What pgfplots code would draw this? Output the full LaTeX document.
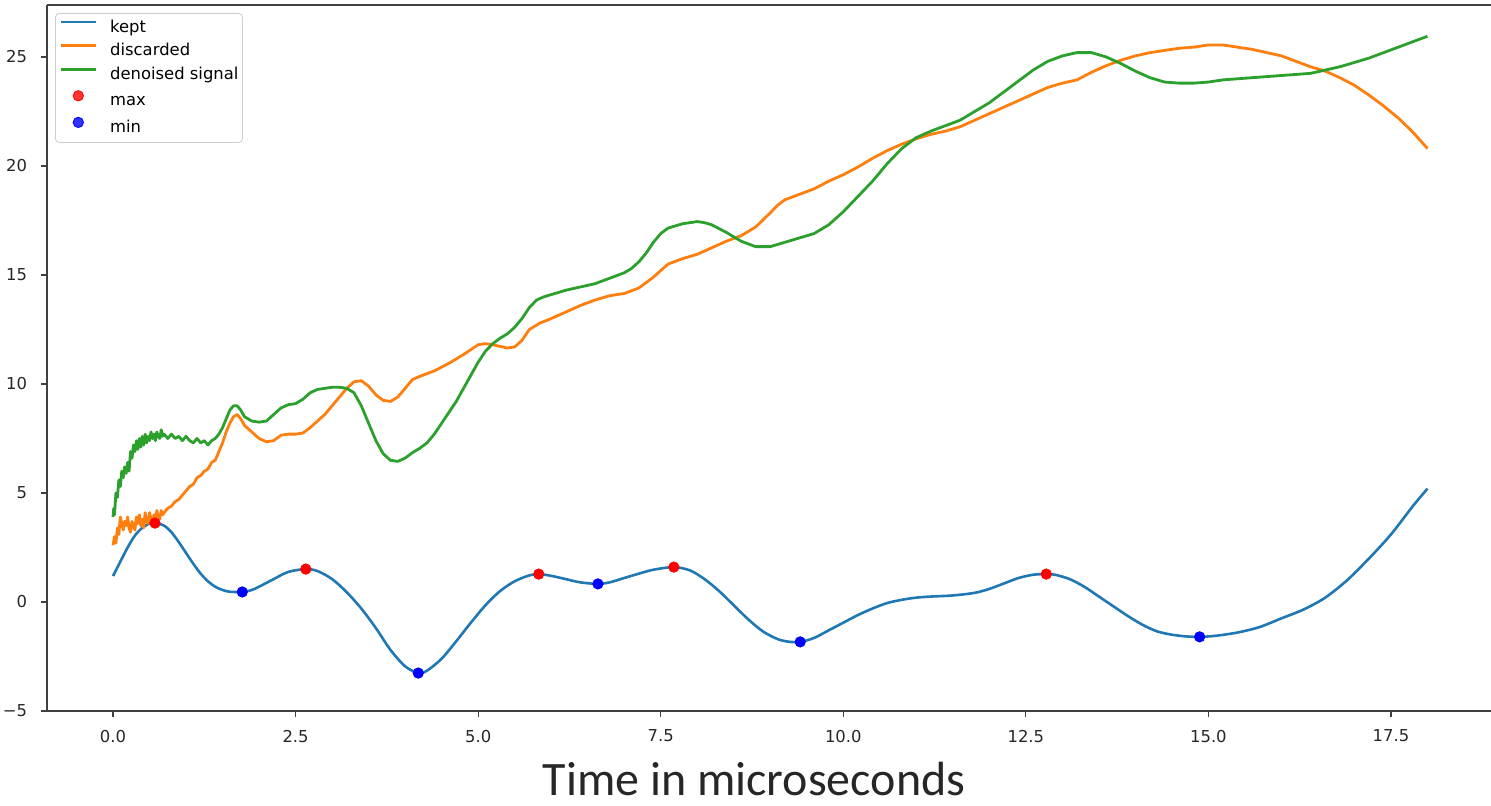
\documentclass[border=0pt]{standalone}
\usepackage{pgfplots}
\pgfplotsset{compat=1.18}
\usepackage{fontspec}
\setmainfont{DejaVu Sans}
\newfontfamily\carlito{Carlito}
\definecolor{tabblue}{HTML}{1F77B4}
\definecolor{taborange}{HTML}{FF7F0E}
\definecolor{tabgreen}{HTML}{2CA02C}
\pgfplotsset{dotlegend/.style={legend image code/.code={\draw[##1] plot coordinates {(8.75pt,2.9pt)};}}}
\begin{document}
\begin{tikzpicture}
\path[use as bounding box] (0,0) rectangle (745.5pt,403pt);
\begin{axis}[
  at={(23.5pt,47.5pt)}, anchor=south west,
  scale only axis, width=722pt, height=353pt,
  xmin=-0.904, xmax=18.87, ymin=-5, ymax=27.385,
  axis x line=box, axis y line=left,
  axis line style={-, draw=black!75, line width=0.65pt},
  tick pos=left, tick align=outside,
  major tick length=2.8pt,
  tick style={black!75, line width=0.6pt},
  xtick={0,2.5,5,7.5,10,12.5,15,17.5},
  xticklabels={0.0,2.5,5.0,7.5,10.0,12.5,15.0,17.5},
  ytick={-5,0,5,10,15,20,25},
  yticklabels={−5,0,5,10,15,20,25},
  ticklabel style={font=\fontsize{8.2}{9}\selectfont, text=black!85},
  xticklabel style={anchor=north, inner sep=0pt, yshift=-6.5pt},
  yticklabel style={anchor=east, inner sep=0pt, xshift=-7pt},
  xlabel={\carlito\fontsize{24}{28}\selectfont Time in microseconds},
  xlabel style={at={(axis description cs:0.4896,0)}, anchor=base, inner sep=0pt, yshift=-42.5pt, text=black!85},
  legend cell align=left,
  legend image code/.code={\draw[#1] (0pt,2.9pt) -- (17.5pt,2.9pt);},
  legend style={at={(rel axis cs:0,1)}, anchor=north west, xshift=4pt, yshift=-4pt,
    draw=black!20, rounded corners=2pt, fill=white, fill opacity=0.8, text opacity=1,
    font=\fontsize{8.2}{9}\selectfont, inner xsep=2pt, inner ysep=3.2pt, row sep=3.8pt,
    nodes={inner sep=0pt, text height=6.2pt, text depth=1.8pt},
    /tikz/every odd column/.append style={column sep=6.5pt}},
]
\addplot[tabblue, line width=1.3pt, smooth] coordinates {
(0.00,1.19) (0.10,1.85) (0.20,2.5) (0.30,3.05) (0.40,3.4) (0.50,3.6) (0.58,3.62) (0.70,3.5) (0.80,3.2) (0.90,2.75) (1.00,2.25) (1.10,1.75) (1.20,1.3) (1.30,0.95) (1.40,0.7) (1.50,0.55) (1.60,0.47) (1.77,0.46) (1.90,0.55) (2.00,0.7) (2.20,1.05) (2.40,1.38) (2.64,1.51) (2.80,1.42) (3.00,1.05) (3.20,0.45) (3.40,-0.3) (3.60,-1.2) (3.80,-2.2) (4.00,-2.95) (4.18,-3.26) (4.30,-3.15) (4.50,-2.6) (4.70,-1.8) (4.90,-0.95) (5.10,-0.15) (5.30,0.5) (5.50,0.95) (5.70,1.22) (5.83,1.28) (6.00,1.2) (6.20,1.05) (6.40,0.9) (6.64,0.83) (6.80,0.9) (7.00,1.1) (7.20,1.3) (7.40,1.48) (7.68,1.6) (7.90,1.45) (8.10,1.05) (8.30,0.5) (8.50,-0.15) (8.70,-0.8) (8.90,-1.35) (9.10,-1.7) (9.25,-1.82) (9.41,-1.83) (9.60,-1.65) (9.80,-1.3) (10.00,-0.95) (10.20,-0.6) (10.40,-0.3) (10.60,-0.05) (10.80,0.1) (11.00,0.2) (11.20,0.25) (11.50,0.3) (11.80,0.42) (12.00,0.6) (12.20,0.85) (12.40,1.1) (12.60,1.25) (12.78,1.28) (12.90,1.25) (13.10,1.05) (13.30,0.7) (13.50,0.25) (13.70,-0.2) (13.90,-0.65) (14.10,-1.05) (14.30,-1.35) (14.50,-1.5) (14.70,-1.58) (14.88,-1.6) (15.10,-1.55) (15.40,-1.4) (15.70,-1.15) (16.00,-0.75) (16.30,-0.35) (16.60,0.2) (16.90,1.0) (17.20,2.0) (17.50,3.1) (17.80,4.4) (18.00,5.2)
};
\addlegendentry{kept}
\addplot[taborange, line width=1.4pt, line join=round] coordinates {
(0.00,2.6) (0.02,3.0) (0.04,2.7) (0.06,3.4) (0.08,3.1) (0.10,3.9) (0.12,3.6) (0.14,3.3) (0.16,3.7) (0.18,3.5) (0.20,3.9) (0.22,3.4) (0.24,3.2) (0.26,3.7) (0.28,3.5) (0.30,3.3) (0.32,3.9) (0.34,3.6) (0.36,4.0) (0.38,3.5) (0.40,3.8) (0.42,3.4) (0.44,4.1) (0.46,3.7) (0.48,3.6) (0.50,4.1) (0.52,3.8) (0.54,3.5) (0.56,4.0) (0.58,3.7) (0.60,4.2) (0.62,3.9) (0.64,3.8) (0.66,4.2) (0.68,4.0) (0.70,4.1) (0.75,4.3) (0.80,4.4) (0.85,4.6) (0.90,4.7) (0.95,4.9) (1.00,5.1) (1.05,5.3) (1.10,5.4) (1.15,5.7) (1.20,5.8) (1.25,6.0) (1.30,6.1) (1.35,6.4) (1.40,6.5) (1.45,6.9) (1.50,7.3) (1.55,7.8) (1.60,8.2) (1.65,8.5) (1.70,8.6) (1.75,8.4) (1.80,8.1) (1.90,7.8) (2.00,7.5) (2.10,7.35) (2.20,7.4) (2.30,7.65) (2.40,7.7) (2.50,7.7) (2.60,7.75) (2.70,8.0) (2.80,8.3) (2.90,8.6) (3.00,9.0) (3.10,9.4) (3.20,9.8) (3.30,10.1) (3.40,10.15) (3.50,9.9) (3.60,9.5) (3.70,9.25) (3.80,9.2) (3.90,9.4) (4.00,9.8) (4.10,10.2) (4.20,10.35) (4.40,10.6) (4.60,10.95) (4.80,11.35) (5.00,11.8) (5.10,11.85) (5.20,11.8) (5.40,11.65) (5.50,11.7) (5.60,12.0) (5.70,12.5) (5.85,12.8) (6.00,13.0) (6.20,13.3) (6.40,13.6) (6.60,13.85) (6.80,14.05) (7.00,14.15) (7.20,14.4) (7.40,14.9) (7.60,15.5) (7.80,15.75) (8.00,15.95) (8.20,16.25) (8.40,16.55) (8.60,16.8) (8.80,17.2) (9.00,17.85) (9.10,18.2) (9.20,18.45) (9.40,18.7) (9.60,18.95) (9.80,19.3) (10.00,19.6) (10.20,19.95) (10.40,20.35) (10.60,20.7) (10.80,21.0) (11.00,21.25) (11.20,21.45) (11.40,21.6) (11.60,21.8) (11.80,22.1) (12.00,22.4) (12.20,22.7) (12.40,23.0) (12.60,23.3) (12.80,23.6) (13.00,23.8) (13.20,23.95) (13.40,24.3) (13.60,24.6) (13.80,24.85) (14.00,25.05) (14.20,25.2) (14.40,25.3) (14.60,25.4) (14.80,25.45) (15.00,25.55) (15.20,25.55) (15.40,25.45) (15.60,25.35) (15.80,25.2) (16.00,25.05) (16.20,24.8) (16.40,24.55) (16.60,24.35) (16.80,24.05) (17.00,23.7) (17.20,23.25) (17.40,22.75) (17.60,22.2) (17.80,21.55) (18.00,20.8)
};
\addlegendentry{discarded}
\addplot[tabgreen, line width=1.4pt, line join=round] coordinates {
(0.00,3.9) (0.01,4.3) (0.02,4.0) (0.04,5.0) (0.06,4.8) (0.08,5.6) (0.10,5.3) (0.12,6.0) (0.14,5.7) (0.16,6.2) (0.18,5.9) (0.20,6.4) (0.22,6.0) (0.24,6.9) (0.26,6.6) (0.28,7.2) (0.30,6.9) (0.32,7.4) (0.34,7.0) (0.36,7.5) (0.38,7.1) (0.40,7.6) (0.42,7.2) (0.44,7.7) (0.46,7.3) (0.48,7.6) (0.50,7.4) (0.52,7.8) (0.54,7.5) (0.56,7.7) (0.58,7.4) (0.60,7.8) (0.62,7.6) (0.64,7.5) (0.66,7.9) (0.68,7.6) (0.70,7.7) (0.75,7.5) (0.80,7.7) (0.85,7.5) (0.90,7.6) (0.95,7.4) (1.00,7.6) (1.05,7.4) (1.10,7.3) (1.15,7.5) (1.20,7.3) (1.25,7.4) (1.30,7.2) (1.35,7.4) (1.40,7.5) (1.45,7.7) (1.50,8.0) (1.55,8.4) (1.60,8.8) (1.65,9.0) (1.70,9.0) (1.75,8.8) (1.80,8.5) (1.90,8.3) (2.00,8.25) (2.10,8.3) (2.20,8.6) (2.30,8.9) (2.40,9.05) (2.50,9.1) (2.60,9.3) (2.70,9.6) (2.80,9.75) (2.90,9.8) (3.00,9.85) (3.10,9.85) (3.20,9.8) (3.30,9.6) (3.40,9.0) (3.50,8.2) (3.60,7.4) (3.70,6.8) (3.80,6.5) (3.90,6.45) (4.00,6.6) (4.10,6.85) (4.20,7.05) (4.30,7.3) (4.40,7.7) (4.50,8.2) (4.60,8.7) (4.70,9.2) (4.80,9.8) (4.90,10.4) (5.00,11.0) (5.10,11.5) (5.20,11.85) (5.30,12.1) (5.40,12.3) (5.50,12.6) (5.60,13.0) (5.70,13.5) (5.80,13.85) (5.90,14.0) (6.00,14.1) (6.20,14.3) (6.40,14.45) (6.60,14.6) (6.80,14.85) (7.00,15.1) (7.10,15.3) (7.20,15.6) (7.30,16.0) (7.40,16.5) (7.50,16.9) (7.60,17.15) (7.70,17.25) (7.80,17.35) (7.90,17.4) (8.00,17.45) (8.10,17.4) (8.20,17.3) (8.40,16.95) (8.60,16.55) (8.80,16.3) (9.00,16.3) (9.20,16.5) (9.40,16.7) (9.60,16.9) (9.80,17.3) (10.00,17.9) (10.20,18.6) (10.40,19.3) (10.60,20.1) (10.80,20.8) (11.00,21.3) (11.20,21.6) (11.40,21.85) (11.60,22.1) (11.80,22.5) (12.00,22.9) (12.20,23.4) (12.40,23.9) (12.60,24.4) (12.80,24.8) (13.00,25.05) (13.20,25.2) (13.40,25.2) (13.60,25.0) (13.80,24.7) (14.00,24.35) (14.20,24.05) (14.40,23.85) (14.60,23.8) (14.80,23.8) (15.00,23.85) (15.20,23.95) (15.40,24.0) (15.60,24.05) (15.80,24.1) (16.00,24.15) (16.20,24.2) (16.40,24.25) (16.60,24.4) (16.80,24.55) (17.00,24.75) (17.20,24.95) (17.40,25.2) (17.60,25.45) (17.80,25.7) (18.00,25.95)
};
\addlegendentry{denoised signal}
\addplot[only marks, mark=*, mark size=2.6pt, draw=red, fill=red, dotlegend] coordinates {
(0.575,3.62) (2.64,1.51) (5.83,1.28) (7.68,1.6) (12.78,1.28)
};
\addlegendentry{max}
\addplot[only marks, mark=*, mark size=2.6pt, draw=blue, fill=blue, dotlegend] coordinates {
(1.77,0.46) (4.18,-3.26) (6.64,0.83) (9.41,-1.83) (14.88,-1.6)
};
\addlegendentry{min}
\end{axis}
\end{tikzpicture}
\end{document}
